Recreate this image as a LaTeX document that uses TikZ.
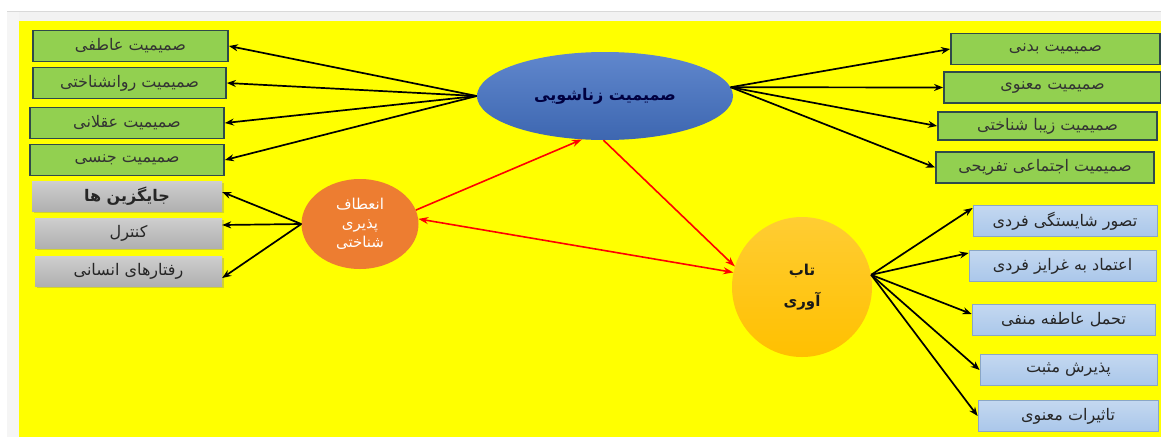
\documentclass[tikz,border=0pt]{standalone}
\usepackage{fontspec}
\newfontfamily\arabicfont[Script=Arabic]{DejaVu Sans}
\TeXXeTstate=1
\usepackage{xcolor}
\usetikzlibrary{shapes.geometric,shadows,arrows.meta}

\definecolor{bgyellow}{HTML}{FFFF00}
\definecolor{boxgreen}{HTML}{92D050}
\definecolor{boxedge}{HTML}{2F4A4A}
\definecolor{zanblue}{HTML}{4472C4}
\definecolor{entorange}{HTML}{ED7D31}
\definecolor{tabgold}{HTML}{FFC000}
\definecolor{lightblue}{HTML}{AAC7EA}
\definecolor{blueedge}{HTML}{8AA6C6}
\newcommand{\fatext}[1]{\beginR #1\endR}

\tikzset{
  boxfont/.style={font=\arabicfont\fontsize{16}{18}\selectfont},
  greenbox/.style={draw=boxedge, line width=1.8pt, fill=boxgreen, inner sep=0pt,
    minimum height=31pt, text=black!80, boxfont},
  graybox/.style={top color=gray!38, bottom color=gray!62, inner sep=0pt,
    minimum height=30pt, text=black!85, boxfont,
    drop shadow={shadow xshift=1.5pt, shadow yshift=-2pt, opacity=0.35}},
  bluebox/.style={draw=blueedge, line width=0.8pt, top color=lightblue!70, bottom color=lightblue,
    inner sep=0pt, minimum height=31pt, text=black!85, boxfont},
  blackarrow/.style={-{Stealth[length=9pt,width=7pt]}, line width=1.7pt, black},
  redarrow/.style={-{Stealth[length=10pt,width=7pt]}, line width=1.6pt, red},
}

\begin{document}
\begin{tikzpicture}[x=1pt,y=-1pt]
\useasboundingbox (0,0) rectangle (1161,437);
\fill[white] (0,0) rectangle (1161,437);
% frame of the snapshot
\fill[gray!10] (7,11) rectangle (1161,21);
\fill[gray!8] (7,11) rectangle (19,437);
\draw[gray!30] (7,11) -- (1161,11);
\fill[bgyellow] (19,21) rectangle (1161,437);

% the three centres
\node[ellipse, inner sep=0pt, minimum width=256pt, minimum height=88pt,
  top color=zanblue!85!white, bottom color=zanblue!90!black, text=blue!25!black,
  font=\arabicfont\bfseries\fontsize{16}{18}\selectfont] (zan) at (605,96) {\fatext{صمیمیت زناشویی}};
\node[ellipse, inner sep=0pt, minimum width=117pt, minimum height=90pt, fill=entorange,
  text=white, align=center, font=\arabicfont\fontsize{15}{19}\selectfont] (ent) at (360,224)
  {\fatext{انعطاف}\\\fatext{پذیری}\\\fatext{شناختی}};
\node[circle, inner sep=0pt, minimum size=140pt, top color=tabgold!80!white, bottom color=tabgold,
  text=black!90, align=center, font=\arabicfont\bfseries\fontsize{15}{31}\selectfont] (tab) at (802,287)
  {\fatext{تاب}\\\fatext{آوری}};

% left boxes
\node[greenbox, minimum width=195pt] (ga) at (130.5,46) {\fatext{صمیمیت  عاطفی}};
\node[greenbox, minimum width=193pt] (gb) at (129.5,83) {\fatext{صمیمیت روانشناختی}};
\node[greenbox, minimum width=194pt] (gc) at (127,123) {\fatext{صمیمیت عقلانی}};
\node[greenbox, minimum width=194pt] (gd) at (127,160) {\fatext{صمیمیت جنسی}};
\node[graybox, minimum width=190pt, font=\arabicfont\bfseries\fontsize{16}{18}\selectfont] (ha) at (127,196) {\fatext{جایگزین ها}};
\node[graybox, minimum width=187pt] (hb) at (128.5,233) {\fatext{کنترل}};
\node[graybox, minimum width=187pt] (hc) at (128.5,271) {\fatext{رفتارهای انسانی}};

% right boxes
\node[greenbox, minimum width=209pt] (ra) at (1055.5,49) {\fatext{صمیمیت بدنی}};
\node[greenbox, minimum width=217pt] (rb) at (1052.5,87.5) {\fatext{صمیمیت معنوی}};
\node[greenbox, minimum width=219pt, minimum height=28pt] (rc) at (1047.5,126) {\fatext{صمیمیت زیبا شناختی}};
\node[greenbox, minimum width=218pt] (rd) at (1045,167.5) {\fatext{صمیمیت اجتماعی تفریحی}};
\node[bluebox, minimum width=184pt] (ta) at (1065,221) {\fatext{تصور شایستگی فردی}};
\node[bluebox, minimum width=187pt] (tb) at (1062.5,266) {\fatext{اعتماد به غرایز فردی}};
\node[bluebox, minimum width=183pt] (tc) at (1063.5,320) {\fatext{تحمل عاطفه منفی}};
\node[bluebox, minimum width=177pt] (td) at (1068.5,370) {\fatext{پذیرش مثبت}};
\node[bluebox, minimum width=180pt] (te) at (1068,416) {\fatext{تاثیرات معنوی}};

% black arrows
\foreach \b in {ga,gb,gc,gd}
  \draw[blackarrow] (zan.west) -- (\b.east);
\foreach \b in {ra,rb,rc,rd}
  \draw[blackarrow] (zan.4) -- (\b.west);
\draw[blackarrow] (ent.west) -- ([yshift=4pt]ha.east);
\draw[blackarrow] (ent.west) -- ([yshift=8pt]hb.east);
\draw[blackarrow] (ent.west) -- ([yshift=-7pt]hc.east);
\draw[blackarrow] (tab.10) -- ([yshift=13pt]ta.west);
\draw[blackarrow] (tab.10) -- ([yshift=13pt]tb.west);
\draw[blackarrow] (tab.10) -- ([yshift=6pt]tc.west);
\draw[blackarrow] (tab.10) -- (td.west);
\draw[blackarrow] (tab.10) -- (te.west);

% red arrows
\draw[redarrow] (ent.14) -- (zan.242);
\draw[redarrow] (zan.268) -- (tab.163);
\draw[redarrow, {Stealth[length=10pt,width=7pt]}-{Stealth[length=10pt,width=7pt]}] (ent.5) -- (tab.168);
\end{tikzpicture}
\end{document}
